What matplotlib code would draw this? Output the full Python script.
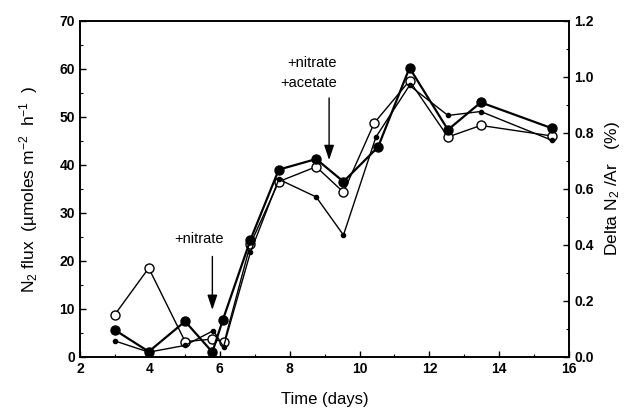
import numpy as np
import matplotlib
matplotlib.use("Agg")
import matplotlib.pyplot as plt
from matplotlib.ticker import MultipleLocator, FormatStrFormatter

plt.rcParams['font.family'] = ['Liberation Sans', 'DejaVu Sans']
plt.rcParams['mathtext.fontset'] = 'custom'
plt.rcParams['mathtext.rm'] = 'Liberation Sans'
plt.rcParams['mathtext.it'] = 'Liberation Sans'

# N2 flux, filled circles
days_filled = [3.0, 3.97, 5.01, 5.79, 6.09, 6.88, 7.69, 8.76, 9.54, 10.53, 11.43, 12.53, 13.47, 15.51]
flux_filled = [5.6, 1.1, 7.4, 1.0, 7.7, 24.4, 39.0, 41.2, 36.5, 43.7, 60.2, 47.3, 53.0, 47.6]

# N2 flux, open circles
days_open = [3.0, 3.97, 5.01, 5.79, 6.13, 6.88, 7.69, 8.76, 9.54, 10.42, 11.43, 12.53, 13.47, 15.51]
flux_open = [8.8, 18.5, 3.2, 3.7, 3.1, 23.5, 36.5, 39.6, 34.3, 48.7, 57.5, 45.8, 48.2, 46.0]

# Delta N2/Ar (%), small dots
days_ratio = [3.0, 3.97, 5.01, 5.82, 6.11, 6.88, 7.69, 8.76, 9.54, 10.47, 11.43, 12.53, 13.47, 15.51]
ratio = [0.057, 0.017, 0.041, 0.094, 0.036, 0.374, 0.634, 0.571, 0.435, 0.785, 0.969, 0.862, 0.876, 0.773]

fig = plt.figure(figsize=(6.29, 4.15), dpi=100)
ax = fig.add_axes([0.127, 0.140, 0.778, 0.810])
ax2 = ax.twinx()

ax.plot(days_open, flux_open, color='black', lw=1.0, marker='o', ms=6.5,
        markerfacecolor='white', markeredgecolor='black', markeredgewidth=1.0, zorder=3)
ax.plot(days_filled, flux_filled, color='black', lw=1.6, marker='o', ms=6.5,
        markerfacecolor='black', zorder=4)
ax2.plot(days_ratio, ratio, color='black', lw=1.0, marker='o', ms=3, zorder=3)

ax.set_xlim(2, 16)
ax.set_ylim(0, 70)
ax2.set_ylim(0, 1.2)

ax.xaxis.set_major_locator(MultipleLocator(2))
ax.xaxis.set_minor_locator(MultipleLocator(1))
ax.yaxis.set_major_locator(MultipleLocator(10))
ax.yaxis.set_minor_locator(MultipleLocator(5))
ax2.yaxis.set_major_locator(MultipleLocator(0.2))
ax2.yaxis.set_minor_locator(MultipleLocator(0.1))
ax2.yaxis.set_major_formatter(FormatStrFormatter('%.1f'))

for a in (ax, ax2):
    a.tick_params(which='major', direction='in', length=4, width=1, labelsize=10)
    a.tick_params(which='minor', direction='in', length=2, width=0.8)
    for s in a.spines.values():
        s.set_linewidth(1.2)
for lab in ax.get_xticklabels() + ax.get_yticklabels() + ax2.get_yticklabels():
    lab.set_fontweight('bold')

ax.set_xlabel('Time (days)', fontsize=12, labelpad=12)
ax.set_ylabel('N$_2$ flux  (µmoles m$^{-2}$  h$^{-1}$  )', fontsize=12.5, labelpad=14)
ax2.set_ylabel('Delta N$_2$ /Ar   (%)', fontsize=12.5, labelpad=7)

arrow = dict(arrowstyle='-|>,head_length=0.9,head_width=0.3', color='black', lw=1.0)
ax.annotate('', xy=(5.79, 9.2), xytext=(5.79, 21.5), arrowprops=arrow)
ax.text(5.4, 24.5, '+nitrate', ha='center', va='center', fontsize=10.5)
ax.annotate('', xy=(9.13, 40.4), xytext=(9.13, 54.5), arrowprops=arrow)
ax.text(8.65, 61.2, '+nitrate', ha='center', va='center', fontsize=10.5)
ax.text(8.55, 57.0, '+acetate', ha='center', va='center', fontsize=10.5)

fig.savefig('out.png', dpi=100)
